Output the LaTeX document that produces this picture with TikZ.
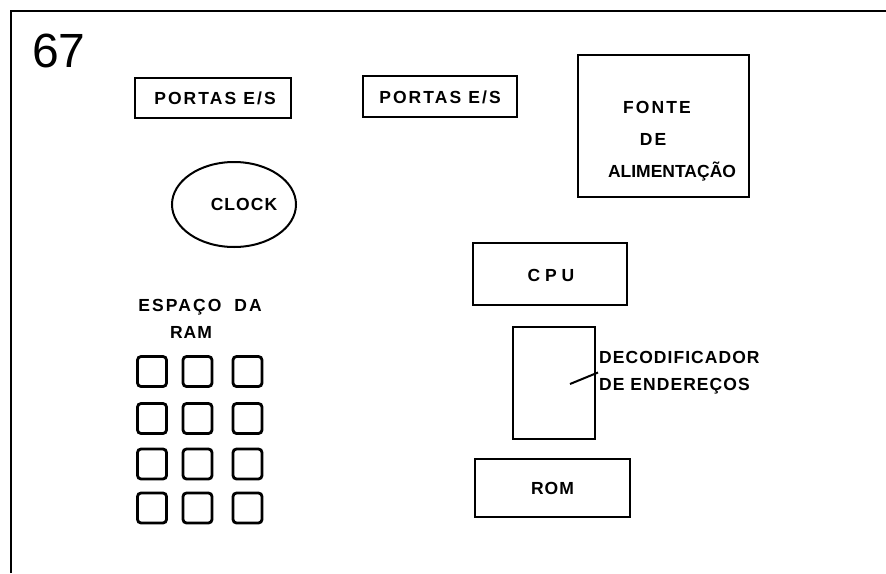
\documentclass[tikz,border=0pt]{standalone}
\usepackage{fontspec}
\usetikzlibrary{calc}
\setmainfont{Liberation Sans}
\newfontfamily\lab[LetterSpace=6]{Liberation Sans}
\newfontfamily\labw[LetterSpace=12]{Liberation Sans}
\newfontfamily\labn[LetterSpace=0]{Liberation Sans}
\newfontfamily\labx[LetterSpace=28]{Liberation Sans}
\begin{document}
\begin{tikzpicture}[x=1pt,y=-1pt,
  box/.style={draw,line width=2pt,inner sep=0pt},
  ram/.style={draw,line width=2.8pt,rounded corners=3.5pt,minimum width=29pt,minimum height=30pt,inner sep=0pt},
  txt/.style={font=\lab\bfseries\fontsize{17.5}{20}\selectfont,inner sep=0pt},
  txtw/.style={font=\labw\bfseries\fontsize{17.5}{20}\selectfont,inner sep=0pt},
  txtn/.style={font=\labn\bfseries\fontsize{17.5}{20}\selectfont,inner sep=0pt},
  txtx/.style={font=\labx\bfseries\fontsize{17.5}{20}\selectfont,inner sep=0pt}]
\useasboundingbox (0,0) rectangle (886,573);
\fill[white] (0,0) rectangle (886,573);
% frame
\draw[line width=2pt] (11,573) -- (11,11) -- (886,11);
\node[inner sep=0pt,font=\fontsize{48}{48}\selectfont] (num) at (59,51) {67};
% portas
\node[box,minimum width=156pt,minimum height=40pt] (p1) at (213,97.5) {};
\node[txtw] (p1t) at (215,98) {PORTAS E/S};
\node[box,minimum width=154pt,minimum height=41pt] (p2) at (440,96.5) {};
\node[txtw] (p2t) at (440,97) {PORTAS E/S};
% fonte
\node[box,minimum width=171pt,minimum height=142pt] (f) at (663.5,126) {};
\node[txtw] (f1) at (657,107) {FONTE};
\node[txtw] (f2) at (653,139) {DE};
\node[txtn] (f3) at (672,172) {ALIMENTAÇÃO};
% clock
\draw[line width=2pt] (234,204.5) ellipse [x radius=62, y radius=42.5];
\node[txt] (clk) at (244,204) {CLOCK};
% ram
\node[txtw] (ram1) at (200,307) {ESPAÇO\hspace{6pt} DA};
\node[txt] (ram2) at (191,332) {RAM};
\foreach \r/\y in {1/371.5,2/418.5,3/464,4/508}{
  \foreach \c/\x in {1/152,2/197.5,3/247.5}{
    \node[ram] (m\r\c) at (\x,\y) {};
  }
}
% cpu
\node[box,minimum width=154pt,minimum height=62pt] (cpu) at (550,274) {};
\node[txtx] (cput) at (551,275) {CPU};
% decoder
\node[box,minimum width=82pt,minimum height=112pt] (dec) at (554,383) {};
\node[txt,align=left,anchor=west,font=\lab\bfseries\fontsize{17.5}{27}\selectfont] (dect) at (599,372.5) {DECODIFICADOR\\DE ENDEREÇOS};
\coordinate (lead) at (570,384);
\draw[line width=2pt] (lead) -- ($(dect.west)+(-1,0)$);
% rom
\node[box,minimum width=155pt,minimum height=58pt] (rom) at (552.5,488) {};
\node[txt] (romt) at (rom.center) {ROM};
\end{tikzpicture}
\end{document}
